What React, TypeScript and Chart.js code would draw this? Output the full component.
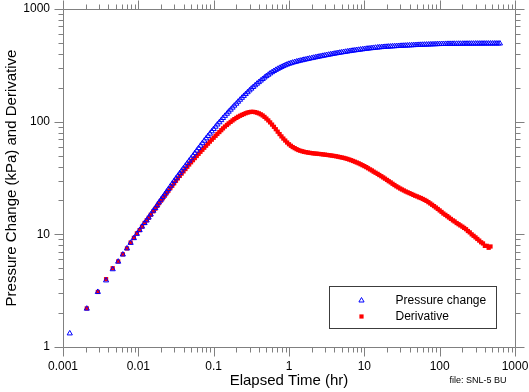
import React, { useEffect, useRef } from "react";
import { Chart, registerables } from "chart.js";

Chart.register(...registerables);

// ---- Data ----
const TIME_HR = [
  0.00123, 0.00207, 0.0029, 0.00373, 0.00457, 0.0054, 0.00623, 0.00707, 0.0079, 0.00873, 0.00957, 0.0104,
  0.0112, 0.0121, 0.0129, 0.0137, 0.0146,
  0.0158, 0.0168, 0.0178, 0.0188, 0.02, 0.0211, 0.0224, 0.0237, 0.0251, 0.0266, 0.0282, 0.0299, 0.0316, 0.0335, 0.0355, 0.0376,
  0.0398, 0.0422, 0.0447, 0.0473, 0.0501, 0.0531, 0.0562, 0.0596, 0.0631, 0.0668, 0.0708, 0.075, 0.0794, 0.0841, 0.0891, 0.0944,
  0.1, 0.106, 0.112, 0.119, 0.126, 0.133, 0.141, 0.15, 0.158, 0.168, 0.178, 0.188, 0.2, 0.211, 0.224, 0.237, 0.251, 0.266, 0.282, 0.299,
  0.316, 0.335, 0.355, 0.376, 0.398, 0.422, 0.447, 0.473, 0.501, 0.531, 0.562, 0.596, 0.631, 0.668, 0.708, 0.75, 0.794, 0.841, 0.891, 0.944,
  1, 1.06, 1.12, 1.19, 1.26, 1.33, 1.41, 1.5, 1.58, 1.68, 1.78, 1.88, 2, 2.11, 2.24, 2.37, 2.51, 2.66, 2.82, 2.99,
  3.16, 3.35, 3.55, 3.76, 3.98, 4.22, 4.47, 4.73, 5.01, 5.31, 5.62, 5.96, 6.31, 6.68, 7.08, 7.5, 7.94, 8.41, 8.91, 9.44,
  10, 10.6, 11.2, 11.9, 12.6, 13.3, 14.1, 15, 15.8, 16.8, 17.8, 18.8, 20, 21.1, 22.4, 23.7, 25.1, 26.6, 28.2, 29.9,
  31.6, 33.5, 35.5, 37.6, 39.8, 42.2, 44.7, 47.3, 50.1, 53.1, 56.2, 59.6, 63.1, 66.8, 70.8, 75, 79.4, 84.1, 89.1, 94.4,
  100, 106, 112, 119, 126, 133, 141, 150, 158, 168, 178, 188, 200, 211, 224, 237, 251, 266, 282, 299,
  316, 335, 355, 376, 398, 422, 447, 473, 501, 531, 562, 596, 631,
];

const PRESSURE_CHANGE = [
  1.32, 2.19, 3.08, 3.9, 4.9, 5.72, 6.62, 7.5, 8.4, 9.25, 10.1, 10.9,
  11.7, 12.6, 13.3, 14.1, 15.0,
  16.2, 17.1, 18.1, 19.2, 20.3, 21.4, 22.6, 23.9, 25.2, 26.7, 28.2, 29.8, 31.4, 33.1, 34.9, 36.7,
  38.6, 40.6, 42.8, 45.0, 47.3, 49.8, 52.5, 55.3, 58.2, 61.2, 64.4, 67.7, 71.1, 74.6, 78.3, 82.1,
  86.1, 90.2, 94.4, 98.7, 103.2, 107.8, 112.6, 117.5, 122.6, 127.8, 133.2, 138.7, 144.4, 150.3, 156.5, 162.8, 169.2, 175.8, 182.6, 189.4,
  196.3, 203.2, 210.3, 217.3, 224.3, 231.6, 239, 246.3, 253.7, 260.9, 268.1, 275, 281.7, 288.1, 294.3, 300.2, 306, 311.5, 316.8, 321.7,
  326.4, 330.5, 334.4, 338, 341.4, 344.8, 348, 351.2, 354.3, 357.4, 360.4, 363.4, 366.4, 369.4, 372.4, 375.4, 378.3, 381.3, 384.2, 387.1,
  390, 392.9, 395.7, 398.5, 401.3, 404.1, 406.8, 409.5, 412.2, 414.8, 417.4, 420, 422.5, 425, 427.4, 429.8, 432.1, 434.4, 436.7, 439,
  441.2, 443.4, 445.5, 447.6, 449.6, 451.5, 453.4, 455.2, 457, 458.5, 460, 461.3, 462.5, 463.8, 465, 466.3, 467.5, 468.5, 469.5, 470.5,
  471.5, 472.5, 473.5, 474.5, 475.5, 476.5, 477.5, 478.5, 479.5, 480.3, 481, 481.8, 482.5, 483.3, 484, 484.8, 485.5, 486.3, 487, 487.8,
  488.5, 488.9, 489.3, 489.7, 490, 490.3, 490.5, 490.8, 491, 491.2, 491.4, 491.6, 491.8, 492, 492.1, 492.3, 492.4, 492.6, 492.7, 492.9,
  493, 493.1, 493.2, 493.3, 493.4, 493.5, 493.6, 493.7, 493.8, 493.9, 493.9, 494, 494,
];

const DERIVATIVE = [
  null, 2.2, 3.08, 4.0, 5.0, 5.75, 6.65, 7.5, 8.45, 9.3, 10.2, 10.9,
  11.7, 12.6, 13.3, 14.0, 14.9,
  16.0, 16.9, 17.9, 18.9, 19.9, 20.9, 22.0, 23.2, 24.4, 25.7, 27.0, 28.4, 29.9, 31.4, 33.0, 34.6,
  36.2, 38.0, 39.8, 41.7, 43.6, 45.5, 47.5, 49.6, 51.8, 54.0, 56.3, 58.7, 61.2, 63.8, 66.5, 69.2,
  72, 74.9, 77.8, 80.9, 84, 87.2, 90.5, 93.5, 96.5, 99.5, 102.5, 105.3, 108, 110.5, 112.8, 114.9, 116.8, 118.8, 120.5, 121.6,
  122.3, 122.2, 121.5, 120.2, 118.5, 116.2, 113.5, 110.2, 106.5, 102.6, 98.5, 94.2, 90, 85.7, 81.5, 77.6, 74, 70.8, 68, 65.3,
  63, 61.1, 59.5, 58.2, 57, 56, 55.2, 54.6, 54, 53.6, 53.2, 52.9, 52.6, 52.3, 52.1, 51.9, 51.7, 51.5, 51.2, 51,
  50.7, 50.5, 50.2, 49.9, 49.6, 49.3, 48.9, 48.5, 48.1, 47.7, 47.2, 46.7, 46.1, 45.5, 44.8, 44.1, 43.4, 42.7, 41.9, 41.1,
  40.3, 39.5, 38.6, 37.7, 36.9, 36, 35.2, 34.4, 33.6, 32.8, 32.0, 31.2, 30.4, 29.6, 28.9, 28.1, 27.4, 26.7, 26.1, 25.5,
  25.0, 24.5, 24.0, 23.6, 23.2, 22.8, 22.4, 22.0, 21.7, 21.3, 21.0, 20.6, 20.2, 19.8, 19.3, 18.8, 18.3, 17.8, 17.3, 16.8,
  16.3, 15.8, 15.3, 14.9, 14.5, 14.1, 13.7, 13.3, 13.0, 12.6, 12.3, 12.0, 11.7, 11.4, 11.1, 10.7, 10.4, 10.0, 9.7, 9.4,
  9.1, 8.8, 8.5, 8.3, 7.9, 7.9, 7.6, 7.8, null, null, null, null, null,
];

const X_TICKS = [0.001, 0.01, 0.1, 1, 10, 100, 1000];
const X_TICK_LABELS = ["0.001", "0.01", "0.1", "1", "10", "100", "1000"];
const Y_TICKS = [1, 10, 100, 1000];
const Y_TICK_LABELS = ["1", "10", "100", "1000"];
const SERIES_NAMES = ["Pressure change", "Derivative"];
const X_TITLE = "Elapsed Time (hr)";
const Y_TITLE = "Pressure Change (kPa) and Derivative";
const FILE_NOTE = "file: SNL-5 BU";

// ---- Styles ----
const FONT = "'Liberation Sans', Arial, Helvetica, sans-serif";
const AXIS_COLOR = "#808080";
const BLUE = "#0000ff";
const RED = "#ff0000";
const MAJOR_TICK = 9;
const MINOR_TICK = 5;

function toPoints(values: (number | null)[]) {
  const pts: { x: number; y: number }[] = [];
  TIME_HR.forEach((t, i) => {
    const v = values[i];
    if (v != null) pts.push({ x: t, y: v });
  });
  return pts;
}

const decorPlugin = {
  id: "decor",
  afterDraw(chart: any) {
    const { ctx, chartArea: a, scales } = chart;
    const xs = scales.x;
    const ys = scales.y;
    const L = Math.round(a.left) + 0.5;
    const R = Math.round(a.right) + 0.5;
    const T = Math.round(a.top) + 0.5;
    const B = Math.round(a.bottom) + 0.5;
    ctx.save();
    ctx.strokeStyle = AXIS_COLOR;
    ctx.lineWidth = 1;
    ctx.beginPath();
    ctx.rect(L, T, R - L, B - T);
    for (const d of X_TICKS) {
      for (let k = 1; k <= 9; k++) {
        const v = d * k;
        if (v > xs.max * 1.0001) break;
        const px = Math.round(xs.getPixelForValue(v)) + 0.5;
        const len = k === 1 ? MAJOR_TICK : MINOR_TICK;
        ctx.moveTo(px, B);
        ctx.lineTo(px, B + len);
        ctx.moveTo(px, T);
        ctx.lineTo(px, T - len);
      }
    }
    for (const d of Y_TICKS) {
      for (let k = 1; k <= 9; k++) {
        const v = d * k;
        if (v > ys.max * 1.0001) break;
        const py = Math.round(ys.getPixelForValue(v)) + 0.5;
        const len = k === 1 ? MAJOR_TICK : MINOR_TICK;
        ctx.moveTo(L, py);
        ctx.lineTo(L - len, py);
        ctx.moveTo(R, py);
        ctx.lineTo(R + len, py);
      }
    }
    ctx.stroke();

    // Legend box
    const bx = Math.round(a.right - 186) + 0.5;
    const by = Math.round(a.bottom - 61) + 0.5;
    ctx.strokeStyle = "#3c3c3c";
    ctx.strokeRect(bx, by, 167, 42);
    const mx = bx + 32;
    const y1 = by + 14;
    const y2 = by + 30;
    const r = 3;
    ctx.beginPath();
    ctx.moveTo(mx, y1 - r);
    ctx.lineTo(mx + r * 0.866, y1 + r * 0.5);
    ctx.lineTo(mx - r * 0.866, y1 + r * 0.5);
    ctx.closePath();
    ctx.strokeStyle = BLUE;
    ctx.stroke();
    ctx.fillStyle = RED;
    const s = 2.1;
    ctx.fillRect(mx - s, y2 - s, 2 * s, 2 * s);
    ctx.fillStyle = "#000";
    ctx.font = `12px ${FONT}`;
    ctx.textAlign = "left";
    ctx.textBaseline = "middle";
    ctx.fillText(SERIES_NAMES[0], bx + 66, y1);
    ctx.fillText(SERIES_NAMES[1], bx + 66, y2);

    // File note
    ctx.font = `9px ${FONT}`;
    ctx.fillText(FILE_NOTE, 449.5, 381);
    ctx.restore();
  },
};

export default function App() {
  const ref = useRef<HTMLCanvasElement>(null);
  useEffect(() => {
    const canvas = ref.current;
    if (!canvas) return;
    Chart.defaults.font.family = FONT;
    const chart = new Chart(canvas, {
      type: "scatter",
      data: {
        datasets: [
          {
            label: SERIES_NAMES[0],
            data: toPoints(PRESSURE_CHANGE),
            pointStyle: "triangle",
            pointRadius: 3,
            borderWidth: 1,
            borderColor: BLUE,
            backgroundColor: "rgba(0,0,0,0)",
            showLine: false,
          },
          {
            label: SERIES_NAMES[1],
            data: toPoints(DERIVATIVE),
            pointStyle: "rect",
            pointRadius: 3,
            borderWidth: 0,
            borderColor: RED,
            backgroundColor: RED,
            showLine: false,
          },
        ],
      },
      options: {
        responsive: false,
        animation: false,
        devicePixelRatio: 1,
        layout: { padding: { left: 0, right: 14, top: 9, bottom: 0 } },
        plugins: { legend: { display: false }, tooltip: { enabled: false } },
        scales: {
          x: {
            type: "logarithmic",
            position: "bottom",
            min: 0.001,
            max: 1000,
            afterBuildTicks: (s: any) => {
              s.ticks = X_TICKS.map((value) => ({ value }));
            },
            afterFit: (s: any) => {
              s.height = 45;
              s.paddingLeft = 0;
              s.paddingRight = 0;
            },
            grid: { display: false, drawTicks: false },
            border: { display: false },
            ticks: {
              autoSkip: false,
              maxRotation: 0,
              padding: 12,
              color: "#000",
              font: { size: 12 },
              callback: (_v: any, i: number) => X_TICK_LABELS[i],
            },
            title: {
              display: true,
              text: X_TITLE,
              color: "#000",
              font: { size: 15 },
              padding: { top: 0, bottom: 2 },
            },
          },
          y: {
            type: "logarithmic",
            position: "left",
            min: 1,
            max: 1000,
            afterBuildTicks: (s: any) => {
              s.ticks = Y_TICKS.map((value) => ({ value }));
            },
            afterFit: (s: any) => {
              s.width = 63;
              s.paddingTop = 0;
              s.paddingBottom = 0;
            },
            grid: { display: false, drawTicks: false },
            border: { display: false },
            ticks: {
              autoSkip: false,
              padding: 13,
              color: "#000",
              font: { size: 12 },
              callback: (_v: any, i: number) => Y_TICK_LABELS[i],
            },
            title: {
              display: true,
              text: Y_TITLE,
              color: "#000",
              font: { size: 15 },
              padding: { top: 3, bottom: 0 },
            },
          },
        },
      },
      plugins: [decorPlugin],
    } as any);
    return () => chart.destroy();
  }, []);

  return (
    <div style={{ position: "absolute", left: 0, top: 0, width: 529, height: 392, background: "#fff" }}>
      <canvas ref={ref} width={529} height={392} style={{ display: "block", width: 529, height: 392 }} />
    </div>
  );
}
